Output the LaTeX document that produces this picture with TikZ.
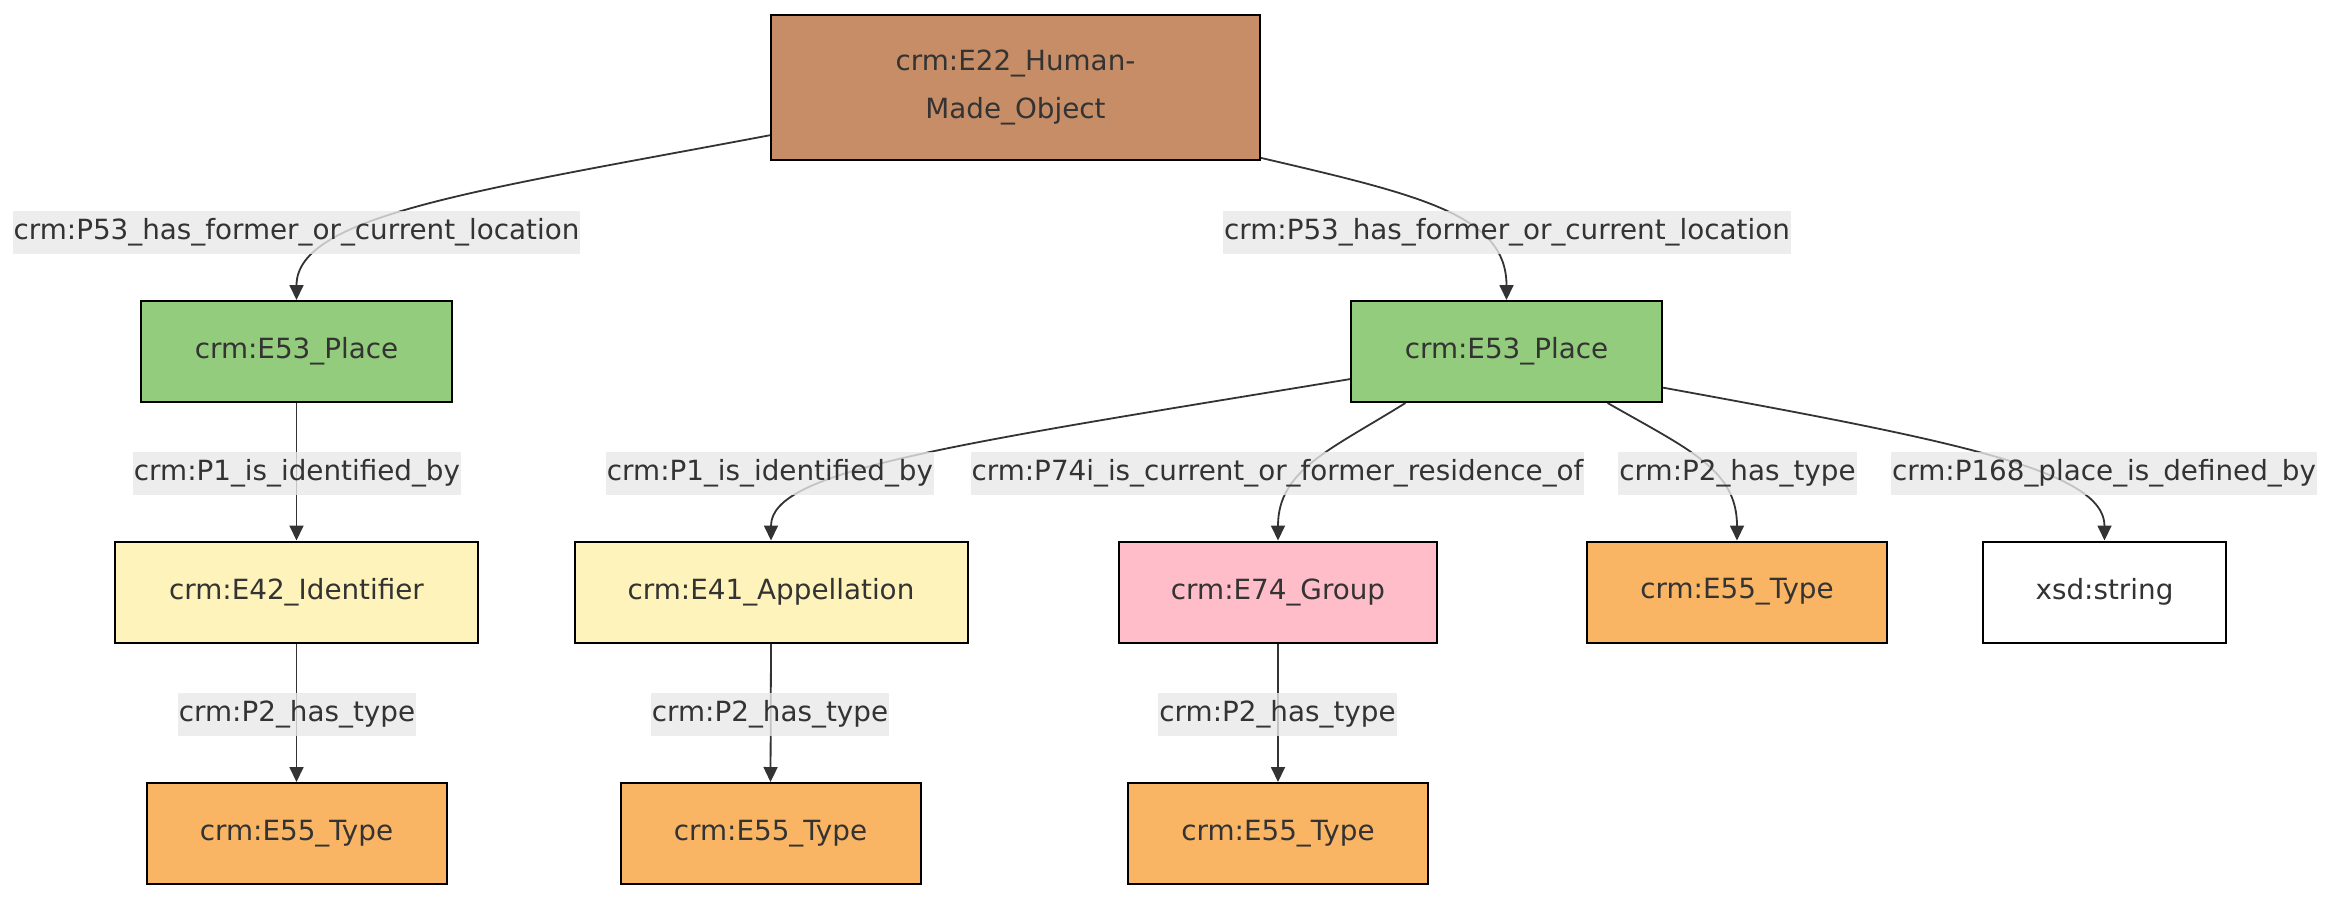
\documentclass[tikz,border=0pt]{standalone}
\usepackage{fontspec}
\setmainfont{DejaVu Sans}
\usetikzlibrary{arrows.meta}
\definecolor{ink}{HTML}{333333}
\definecolor{lblbg}{HTML}{E8E8E8}
\definecolor{objfill}{HTML}{C78D66}
\definecolor{placefill}{HTML}{94CC7D}
\definecolor{namefill}{HTML}{FEF3BA}
\definecolor{groupfill}{HTML}{FFBDCA}
\definecolor{typefill}{HTML}{F9B564}
\begin{document}
\begin{tikzpicture}[x=0.5pt,y=-0.5pt,
  every node/.style={font=\fontsize{13.9}{24}\selectfont, text=ink},
  entity/.style={draw=black, line width=1pt, align=center, inner sep=0pt,
    minimum height=50.5pt},
  rel/.style={fill=lblbg, fill opacity=0.8, text opacity=1, inner xsep=0.5pt,
    inner ysep=0pt, minimum height=21.5pt},
  link/.style={draw=ink, line width=0.9pt, -{Triangle[length=7.5pt,width=7pt]}}]
\useasboundingbox (0,0) rectangle (2352,912);

% entities
\node[entity, fill=objfill, minimum width=244.5pt, minimum height=72.5pt] (obj) at (1015.5,87.5) {crm:E22\_Human-\\Made\_Object};
\node[entity, fill=placefill, minimum width=155.5pt] (placeA) at (296.5,351.5) {crm:E53\_Place};
\node[entity, fill=placefill, minimum width=155.5pt] (placeB) at (1506.5,351.5) {crm:E53\_Place};
\node[entity, fill=namefill, minimum width=181.5pt] (ident) at (296.5,592) {crm:E42\_Identifier};
\node[entity, fill=namefill, minimum width=196.5pt] (appel) at (771,592) {crm:E41\_Appellation};
\node[entity, fill=groupfill, minimum width=159pt] (group) at (1278,592) {crm:E74\_Group};
\node[entity, fill=typefill, minimum width=150pt] (typeB) at (1737,592) {crm:E55\_Type};
\node[entity, fill=white, minimum width=121.5pt] (str) at (2104.5,592) {xsd:string};
\node[entity, fill=typefill, minimum width=150pt] (typeI) at (296.5,833.5) {crm:E55\_Type};
\node[entity, fill=typefill, minimum width=150pt] (typeA) at (770.5,833.5) {crm:E55\_Type};
\node[entity, fill=typefill, minimum width=150pt] (typeG) at (1278,833.5) {crm:E55\_Type};

% connectors
\draw[link] (obj.191.7) .. controls (480,190) and (296.5,215) .. (placeA.north);
\draw[link] (obj.344.4) .. controls (1420,195) and (1506.5,215) .. (placeB.north);
\draw[link] (placeA.south) -- (ident.north);
\draw[link] (ident.south) -- (typeI.north);
\draw[link] (placeB.190.4) .. controls (950,445) and (771,470) .. (appel.north);
\draw[link] (placeB.207.6) .. controls (1330,450) and (1278,470) .. (group.north);
\draw[link] (placeB.333) .. controls (1690,450) and (1737,470) .. (typeB.north);
\draw[link] (placeB.347) .. controls (1950,440) and (2104.5,470) .. (str.north);
\draw[link] (appel.south) -- (typeA.north);
\draw[link] (group.south) -- (typeG.north);

% connector labels
\node[rel] (r1) at (296.5,232.5) {crm:P53\_has\_former\_or\_current\_location};
\node[rel] (r2) at (1507,232.5) {crm:P53\_has\_former\_or\_current\_location};
\node[rel] (r3) at (297,473.5) {crm:P1\_is\_identified\_by};
\node[rel] (r4) at (770,473.5) {crm:P1\_is\_identified\_by};
\node[rel] (r5) at (1277.5,473.5) {crm:P74i\_is\_current\_or\_former\_residence\_of};
\node[rel] (r6) at (1737.5,473.5) {crm:P2\_has\_type};
\node[rel] (r7) at (2104,473.5) {crm:P168\_place\_is\_defined\_by};
\node[rel] (r8) at (297,714) {crm:P2\_has\_type};
\node[rel] (r9) at (770,714) {crm:P2\_has\_type};
\node[rel] (r10) at (1277.5,714) {crm:P2\_has\_type};
\end{tikzpicture}
\end{document}
